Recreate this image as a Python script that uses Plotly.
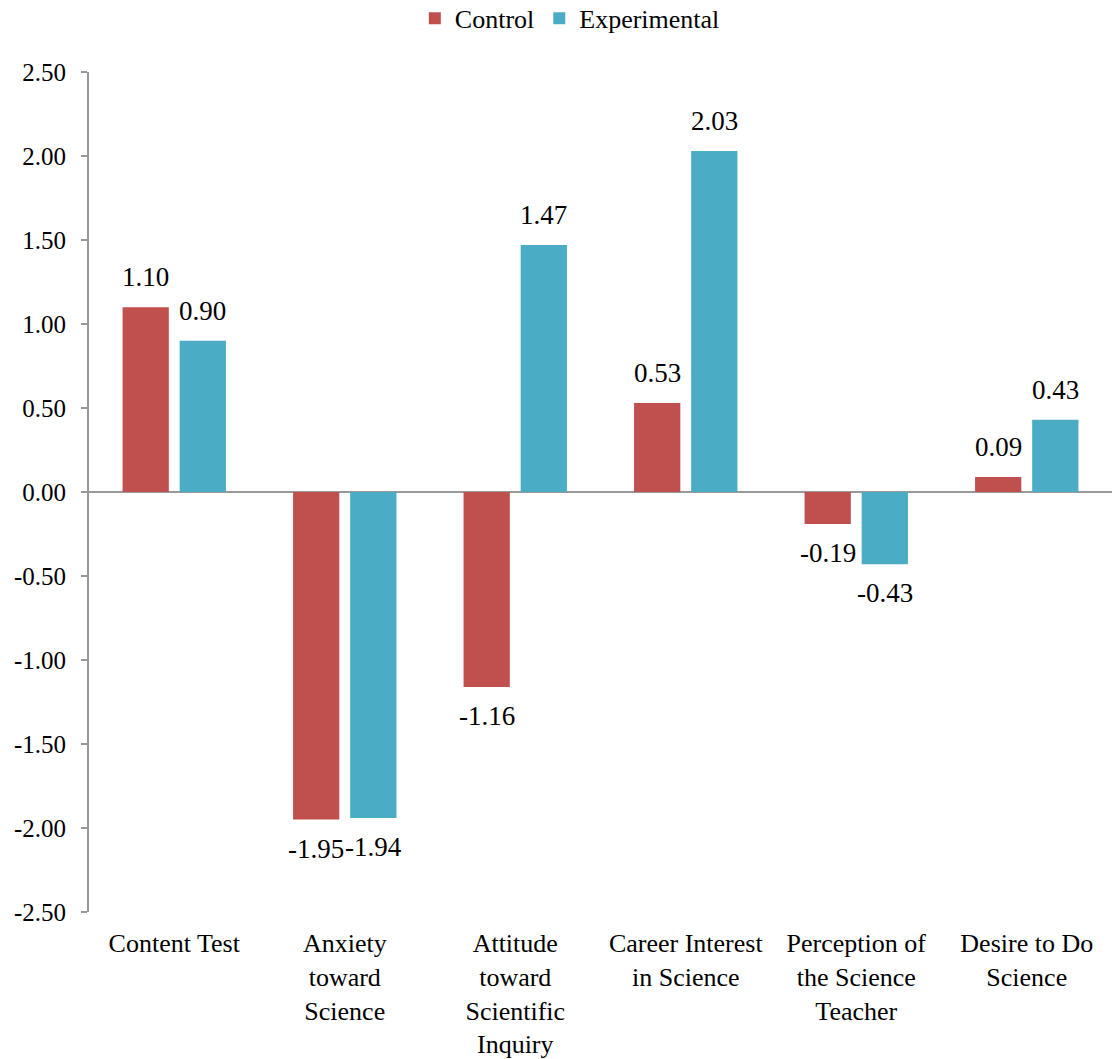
import plotly.graph_objects as go

categories = ["Content Test", "Anxiety<br>toward<br>Science", "Attitude<br>toward<br>Scientific<br>Inquiry",
              "Career Interest<br>in Science", "Perception of<br>the Science<br>Teacher", "Desire to Do<br>Science"]
control = [1.10, -1.95, -1.16, 0.53, -0.19, 0.09]
experimental = [0.90, -1.94, 1.47, 2.03, -0.43, 0.43]
yticks = [-2.5, -2.0, -1.5, -1.0, -0.5, 0.0, 0.5, 1.0, 1.5, 2.0, 2.5]

FONT = "Liberation Serif"
LABEL_SIZE = 27
OFFSET = 28.6  # half of a bar slot in pixels

fig = go.Figure()
fig.add_trace(go.Bar(name="Control", x=categories, y=control, marker_color="#C0504D",
                     marker_line_width=0))
fig.add_trace(go.Bar(name="Experimental", x=categories, y=experimental, marker_color="#4BACC6",
                     marker_line_width=0))

for series, shift in ((control, -OFFSET), (experimental, OFFSET)):
    for cat, v in zip(categories, series):
        fig.add_annotation(x=cat, y=v, xref="x", yref="y", text=f"{v:.2f}", showarrow=False,
                           xshift=shift, yshift=13 if v >= 0 else -12,
                           yanchor="bottom" if v >= 0 else "top",
                           font=dict(family=FONT, size=LABEL_SIZE, color="black"))

fig.update_layout(
    template="none",
    width=1112, height=1059,
    margin=dict(l=89, r=0, t=72, b=147, autoexpand=False),
    paper_bgcolor="white", plot_bgcolor="white",
    font=dict(family=FONT, size=25, color="black"),
    barmode="group", bargap=0.33, bargroupgap=0.19,
    showlegend=True,
    legend=dict(orientation="h", x=0.47, xanchor="center", y=1.036, yanchor="bottom",
                yref="paper", font=dict(family=FONT, size=26, color="black"),
                itemwidth=30, tracegroupgap=0),
)
fig.update_xaxes(showline=False, showgrid=False, zeroline=False, ticks="", tickangle=0,
                 tickfont=dict(family=FONT, size=26, color="black"), ticklabelstandoff=13,
                 automargin=False)
fig.update_yaxes(range=[-2.5, 2.5], tickvals=yticks, ticktext=[f"{v:.2f}" for v in yticks],
                 showgrid=False, showline=True, linecolor="#999999", linewidth=2,
                 ticks="outside", ticklen=6, tickcolor="#999999", tickwidth=2,
                 zeroline=True, zerolinecolor="#999999", zerolinewidth=2,
                 tickfont=dict(family=FONT, size=25, color="black"), ticklabelstandoff=10,
                 automargin=False)

fig.write_html("out.html")
